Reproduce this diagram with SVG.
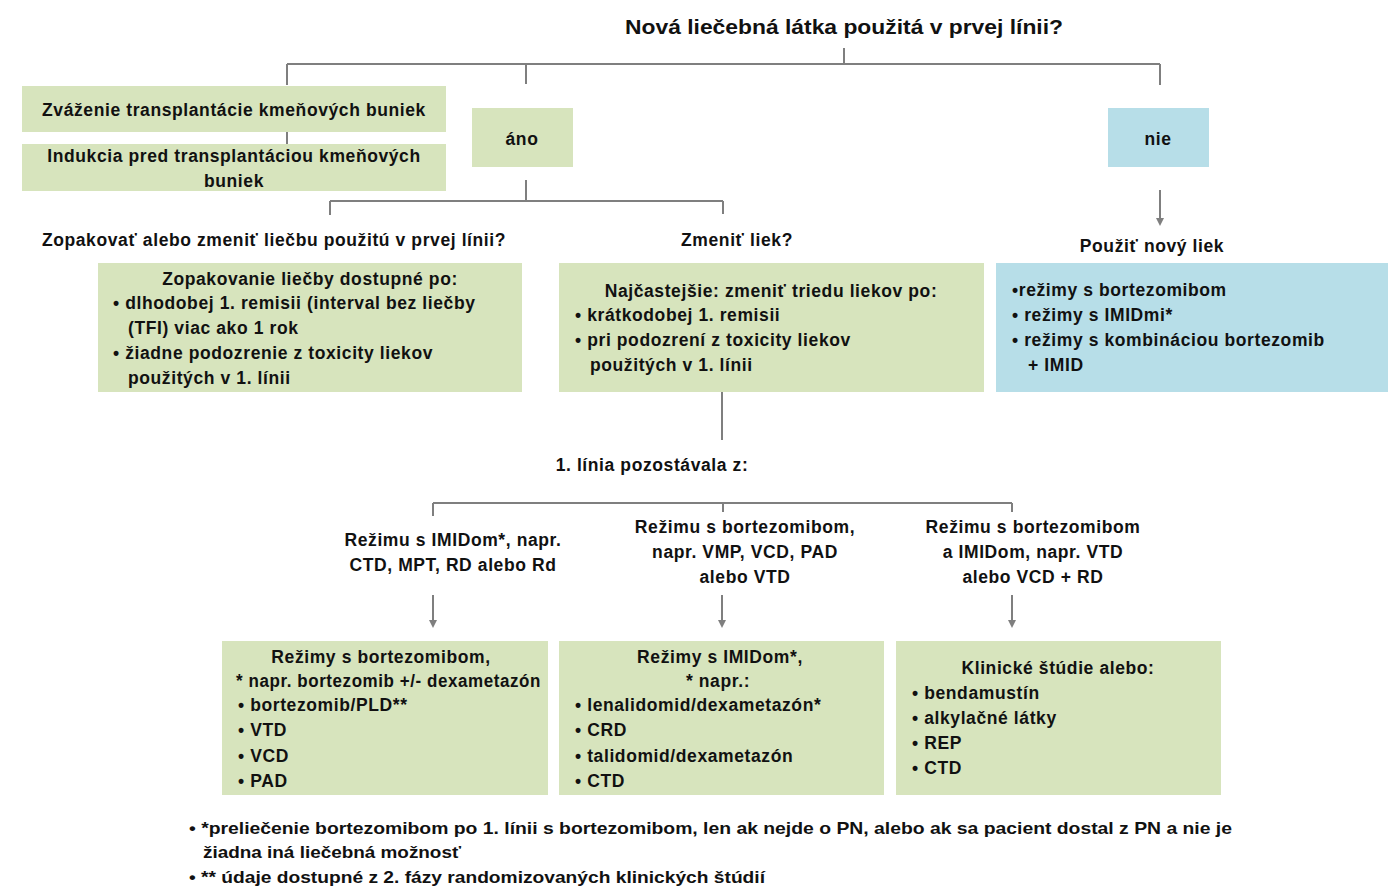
<svg xmlns="http://www.w3.org/2000/svg" width="1388" height="888" viewBox="0 0 1388 888">
<defs>
<style>
.t{font-family:"Liberation Sans",Arial,sans-serif;font-weight:bold;font-size:17.5px;letter-spacing:0.6px;fill:#111}
.c{text-anchor:middle}
.g{fill:#d7e4bd}
.b{fill:#b7dee8}
.ln{stroke:#7f7f7f;stroke-width:2;fill:none}
.ttl{font-family:"Liberation Sans",Arial,sans-serif;font-weight:bold;font-size:21px;fill:#111}
.fn{font-family:"Liberation Sans",Arial,sans-serif;font-weight:bold;font-size:17px;fill:#111}
</style>
<marker id="ah" markerWidth="8" markerHeight="8" refX="4" refY="4" orient="auto" markerUnits="userSpaceOnUse">
<path d="M0,0 L8,4 L0,8 z" fill="#7f7f7f"/>
</marker>
</defs>
<rect width="1388" height="888" fill="#fff"/>

<g id="connectors">
<path class="ln" d="M844,48 V64 M287,64 H1160 M287,64 V85 M526,64 V84 M1160,64 V85"/>
<path class="ln" d="M287,132 V144"/>
<path class="ln" d="M526,180 V201 M330,201 H723 M330,201 V215 M723,201 V214"/>
<path class="ln" d="M1160,190 V222" marker-end="url(#ah)"/>
<path class="ln" d="M722,392 V440"/>
<path class="ln" d="M433,503 H1012 M433,503 V516 M723,503 V512 M1012,503 V512"/>
<path class="ln" d="M433,595 V624" marker-end="url(#ah)"/>
<path class="ln" d="M722,595 V624" marker-end="url(#ah)"/>
<path class="ln" d="M1012,595 V624" marker-end="url(#ah)"/>
</g>

<g id="title">
<text class="ttl c" x="844" y="34" textLength="438" lengthAdjust="spacingAndGlyphs">Nová liečebná látka použitá v prvej línii?</text>
</g>

<g id="n-zvazenie">
<rect class="g" x="22" y="86" width="424" height="46"/>
<text class="t c" x="234" y="116">Zváženie transplantácie  kmeňových buniek</text>
</g>

<g id="n-indukcia">
<rect class="g" x="22" y="144" width="424" height="47"/>
<text class="t c" x="234" y="162">Indukcia  pred transplantáciou  kmeňových</text>
<text class="t c" x="234" y="187">buniek</text>
</g>

<g id="n-ano">
<rect class="g" x="472" y="108" width="101" height="59"/>
<text class="t c" x="522" y="145">áno</text>
</g>

<g id="n-nie">
<rect class="b" x="1108" y="108" width="101" height="59"/>
<text class="t c" x="1158" y="145">nie</text>
</g>

<g id="l-zopakovat">
<text class="t c" x="274" y="246">Zopakovať alebo zmeniť liečbu použitú v prvej línii?</text>
</g>
<g id="l-zmenit">
<text class="t c" x="737" y="246">Zmeniť liek?</text>
</g>
<g id="l-pouzit">
<text class="t c" x="1152" y="252">Použiť nový liek</text>
</g>

<g id="n-opakovanie">
<rect class="g" x="98" y="263" width="424" height="129"/>
<text class="t c" x="310" y="285">Zopakovanie liečby dostupné  po:</text>
<text class="t" x="113" y="309">• dlhodobej  1. remisii (interval bez liečby</text>
<text class="t" x="128" y="334">(TFI)  viac ako 1 rok</text>
<text class="t" x="113" y="359">• žiadne podozrenie z toxicity liekov</text>
<text class="t" x="128" y="384">použitých v 1. línii</text>
</g>

<g id="n-najcastejsie">
<rect class="g" x="559" y="263" width="425" height="129"/>
<text class="t c" x="771" y="297">Najčastejšie: zmeniť triedu liekov  po:</text>
<text class="t" x="575" y="321">• krátkodobej 1. remisii</text>
<text class="t" x="575" y="346">• pri podozrení z toxicity liekov</text>
<text class="t" x="590" y="371">použitých v 1. línii</text>
</g>

<g id="n-novyliek">
<rect class="b" x="996" y="263" width="392" height="129"/>
<text class="t" x="1012" y="296">•režimy s bortezomibom</text>
<text class="t" x="1012" y="321">• režimy s IMIDmi*</text>
<text class="t" x="1012" y="346">• režimy s kombináciou  bortezomib</text>
<text class="t" x="1028" y="371">+ IMID</text>
</g>

<g id="l-linia">
<text class="t c" x="652" y="471">1. línia pozostávala z:</text>
</g>

<g id="l-imidom">
<text class="t c" x="453" y="546">Režimu s IMIDom*, napr.</text>
<text class="t c" x="453" y="571">CTD, MPT, RD alebo Rd</text>
</g>
<g id="l-bortezomibom">
<text class="t c" x="745" y="533">Režimu s bortezomibom,</text>
<text class="t c" x="745" y="558">napr. VMP, VCD, PAD</text>
<text class="t c" x="745" y="583">alebo VTD</text>
</g>
<g id="l-kombinacia">
<text class="t c" x="1033" y="533">Režimu s bortezomibom</text>
<text class="t c" x="1033" y="558">a IMIDom, napr. VTD</text>
<text class="t c" x="1033" y="583">alebo VCD + RD</text>
</g>

<g id="n-rezimy-bortezomib">
<rect class="g" x="222" y="641" width="326" height="154"/>
<text class="t c" x="381" y="663">Režimy s bortezomibom,</text>
<text class="t" x="236" y="687" textLength="305" lengthAdjust="spacingAndGlyphs">* napr. bortezomib +/- dexametazón</text>
<text class="t" x="238" y="711">• bortezomib/PLD**</text>
<text class="t" x="238" y="736">• VTD</text>
<text class="t" x="238" y="762">• VCD</text>
<text class="t" x="238" y="787">• PAD</text>
</g>

<g id="n-rezimy-imid">
<rect class="g" x="559" y="641" width="325" height="154"/>
<text class="t c" x="720" y="663">Režimy s IMIDom*,</text>
<text class="t c" x="718" y="687">* napr.:</text>
<text class="t" x="575" y="711">• lenalidomid/dexametazón*</text>
<text class="t" x="575" y="736">• CRD</text>
<text class="t" x="575" y="762">• talidomid/dexametazón</text>
<text class="t" x="575" y="787">• CTD</text>
</g>

<g id="n-klinicke">
<rect class="g" x="896" y="641" width="325" height="154"/>
<text class="t c" x="1058" y="674">Klinické štúdie alebo:</text>
<text class="t" x="912" y="699">• bendamustín</text>
<text class="t" x="912" y="724">• alkylačné látky</text>
<text class="t" x="912" y="749">• REP</text>
<text class="t" x="912" y="774">• CTD</text>
</g>

<g id="footnotes">
<text class="fn" x="189" y="834" textLength="1043" lengthAdjust="spacingAndGlyphs">• *preliečenie bortezomibom  po 1. línii s bortezomibom, len ak nejde o PN, alebo ak sa pacient dostal z PN a nie je</text>
<text class="fn" x="203" y="858" textLength="258" lengthAdjust="spacingAndGlyphs">žiadna iná liečebná možnosť</text>
<text class="fn" x="189" y="883" textLength="576" lengthAdjust="spacingAndGlyphs">• ** údaje dostupné  z 2. fázy randomizovaných klinických štúdií</text>
</g>
</svg>
